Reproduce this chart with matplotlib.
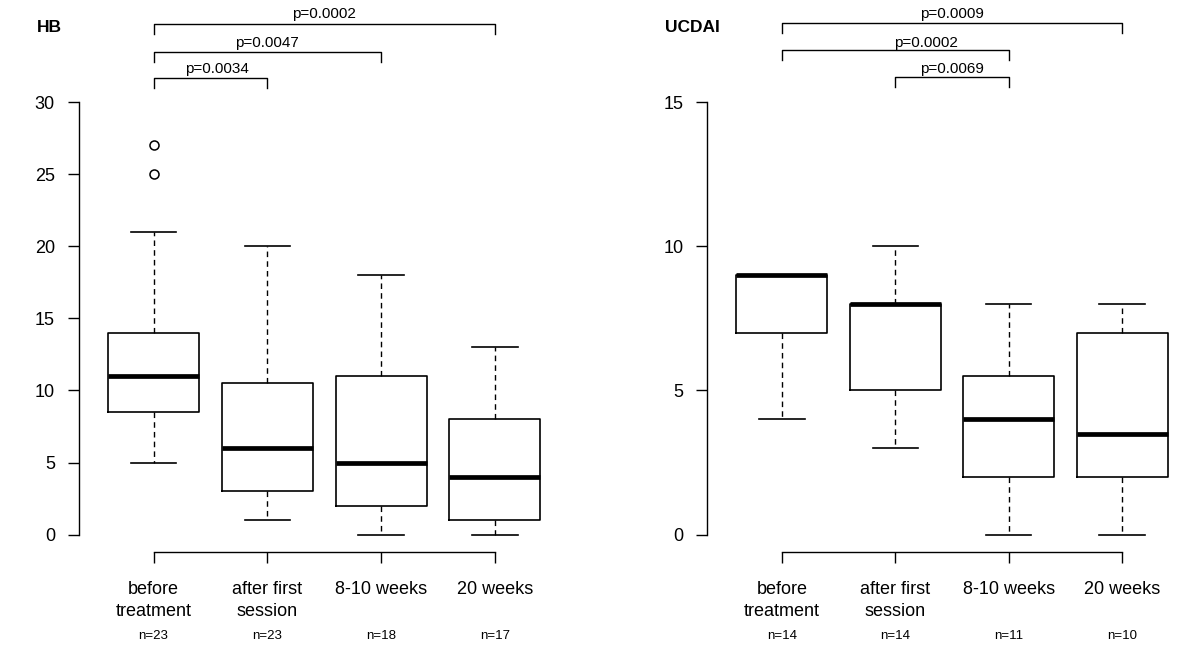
import matplotlib
matplotlib.use("Agg")
import matplotlib.pyplot as plt
import matplotlib.transforms as mtransforms

plt.rcParams["font.family"] = ["Liberation Sans", "DejaVu Sans"]

# data
groups = ["before\ntreatment", "after first\nsession", "8-10 weeks", "20 weeks"]

hb_n = [23, 23, 18, 17]
hb_whislo = [5, 1, 0, 0]
hb_q1 = [8.5, 3, 2, 1]
hb_med = [11, 6, 5, 4]
hb_q3 = [14, 10.5, 11, 8]
hb_whishi = [21, 20, 18, 13]
hb_fliers = [[25, 27], [], [], []]
hb_pairs = [(0, 3), (0, 2), (0, 1)]
hb_pvals = ["p=0.0002", "p=0.0047", "p=0.0034"]

uc_n = [14, 14, 11, 10]
uc_whislo = [4, 3, 0, 0]
uc_q1 = [7, 5, 2, 2]
uc_med = [9, 8, 4, 3.5]
uc_q3 = [9, 8, 5.5, 7]
uc_whishi = [9, 10, 8, 8]
uc_fliers = [[], [], [], []]
uc_pairs = [(0, 3), (0, 2), (1, 2)]
uc_pvals = ["p=0.0009", "p=0.0002", "p=0.0069"]

W, H = 1200, 647
fig = plt.figure(figsize=(W / 100, H / 100), dpi=100)


def px_y(y):
    return (H - y) / H


def panel(rect, title, ymax, yticks, n, lo, q1, med, q3, hi, fliers,
          pairs, pvals, line_px, text_px, text_dx):
    ax = fig.add_axes(rect)
    stats = []
    for i in range(len(groups)):
        stats.append({"whislo": lo[i], "q1": q1[i], "med": med[i], "q3": q3[i],
                      "whishi": hi[i], "fliers": fliers[i]})
    pos = list(range(1, len(groups) + 1))
    ax.bxp(stats, positions=pos, widths=0.8, showfliers=True,
           boxprops=dict(color="black", linewidth=1.2),
           medianprops=dict(color="black", linewidth=3.4, solid_capstyle="butt"),
           whiskerprops=dict(color="black", linewidth=1.0, linestyle=(0, (4, 3))),
           capprops=dict(color="black", linewidth=1.2),
           capwidths=0.4,
           flierprops=dict(marker="o", markerfacecolor="white", markeredgecolor="black",
                           markersize=6.5, markeredgewidth=1.1))
    pad = 0.04 * ymax
    ax.set_ylim(-pad, ymax + pad)
    ax.set_xlim(0.34, 4.66)
    for s in ["top", "right"]:
        ax.spines[s].set_visible(False)
    ax.spines["left"].set_bounds(0, ymax)
    ax.spines["bottom"].set_bounds(1, 4)
    ax.spines["left"].set_linewidth(1.0)
    ax.spines["bottom"].set_linewidth(1.0)
    ax.set_yticks(yticks)
    ax.set_yticklabels([str(t) for t in yticks])
    ax.set_xticks(pos)
    ax.set_xticklabels(groups, linespacing=1.4)
    ax.tick_params(axis="y", direction="out", length=8, width=1.0, pad=9, labelsize=13)
    ax.tick_params(axis="x", direction="out", length=8, width=1.0, pad=13, labelsize=13)

    trans = mtransforms.blended_transform_factory(ax.transData, fig.transFigure)
    for i, c in enumerate(n):
        fig.text(pos[i], px_y(636), f"n={c}", transform=trans, ha="center", va="center",
                 fontsize=9.5)

    # significance brackets
    for k, (a, b) in enumerate(pairs):
        ytop = px_y(line_px[k])
        ybot = px_y(line_px[k] + 10)
        ax.plot([pos[a], pos[a], pos[b], pos[b]], [ybot, ytop, ytop, ybot],
                color="black", linewidth=1.0, transform=trans, clip_on=False)
        xm = (pos[a] + pos[b]) / 2 + text_dx[k]
        ax.text(xm, px_y(text_px[k]), pvals[k], transform=trans, ha="center",
                va="center", fontsize=11)

    fig.text(rect[0] - 0.035, px_y(27), title, ha="left", va="center",
             fontsize=12.5, fontweight="bold")
    return ax


y0 = (H - 552) / H
hgt = (552 - 84.7) / H
panel([78.5 / W, y0, (570 - 78.5) / W, hgt], "HB", 30, [0, 5, 10, 15, 20, 25, 30],
      hb_n, hb_whislo, hb_q1, hb_med, hb_q3, hb_whishi, hb_fliers,
      hb_pairs, hb_pvals, [24, 52, 78], [14, 43, 69.5], [0, 0, 0.06])
panel([707 / W, y0, (1197 - 707) / W, hgt], "UCDAI", 15, [0, 5, 10, 15],
      uc_n, uc_whislo, uc_q1, uc_med, uc_q3, uc_whishi, uc_fliers,
      uc_pairs, uc_pvals, [22.5, 50, 76.5], [14, 43.5, 69], [0, 0.27, 0])

fig.savefig("out.png", dpi=100)
